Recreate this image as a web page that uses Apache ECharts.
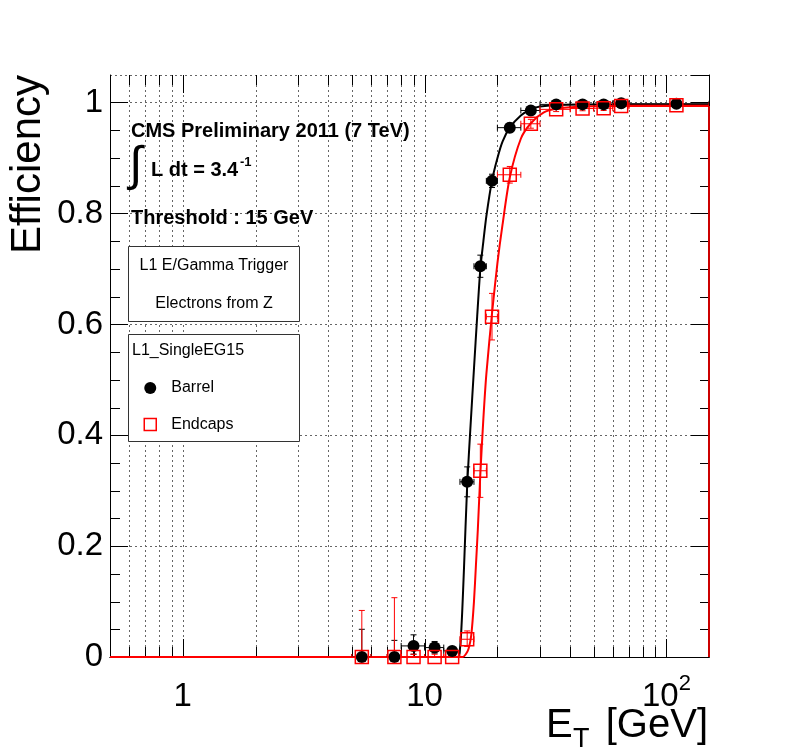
<!DOCTYPE html>
<html><head><meta charset="utf-8">
<script src="https://cdn.jsdelivr.net/npm/echarts@6/dist/echarts.min.js"></script>
<style>html,body{margin:0;padding:0;background:#fff}#c{width:788px;height:756px}</style>
</head><body><div id="c"></div>
<script>
const FONT = "'Liberation Sans', Arial, Helvetica, sans-serif";

// ---- axis ticks / labels ----
const xMajorTicks = [1, 10, 100];
const xMajorLabels = ['{b|1}', '{b|10}', '{b|10}{s|2}'];
const xMinorTicks = [0.6, 0.7, 0.8, 0.9, 2, 3, 4, 5, 6, 7, 8, 9, 20, 30, 40, 50, 60, 70, 80, 90];
const yMajorTicks = [0, 0.2, 0.4, 0.6, 0.8, 1];
const yMajorLabels = ['0', '0.2', '0.4', '0.6', '0.8', '1'];
const yMinorTicks = [0.05, 0.1, 0.15, 0.25, 0.3, 0.35, 0.45, 0.5, 0.55, 0.65, 0.7, 0.75, 0.85, 0.9, 0.95];

// ---- measured points ----
const binCenter = [5.5, 7.5, 9, 11, 13, 15, 17, 19, 22.5, 27.5, 35, 45, 55, 65, 110];
const binLow    = [5, 7, 8, 10, 12, 14, 16, 18, 20, 25, 30, 40, 50, 60, 70];
const binHigh   = [6, 8, 10, 12, 14, 16, 18, 20, 25, 30, 40, 50, 60, 70, 150];

const barrelEff   = [0, 0, 0.02, 0.017, 0.011, 0.316, 0.705, 0.859, 0.955, 0.986, 0.997, 0.997, 0.997, 0.999, 0.998];
const barrelErrLo = [0, 0, 0.015, 0.01, 0.006, 0.027, 0.02, 0.012, 0.008, 0.004, 0.002, 0.002, 0.002, 0.002, 0.002];
const barrelErrHi = [0.05, 0.03, 0.02, 0.011, 0.006, 0.027, 0.02, 0.012, 0.008, 0.004, 0.002, 0.002, 0.002, 0.001, 0.002];

const endcapEff   = [0, 0, 0, 0, 0, 0.032, 0.336, 0.614, 0.870, 0.962, 0.988, 0.9895, 0.99, 0.994, 0.9955];
const endcapErrLo = [0, 0, 0, 0, 0, 0.013, 0.048, 0.042, 0.015, 0.008, 0.004, 0.004, 0.004, 0.003, 0.003];
const endcapErrHi = [0.084, 0.107, 0.005, 0.005, 0.005, 0.015, 0.048, 0.042, 0.015, 0.008, 0.004, 0.004, 0.004, 0.003, 0.003];

// ---- fitted curves ----
const barrelFitX = [0.5, 13.7, 13.9, 14.1, 14.3, 14.55, 15, 15.5, 16, 16.5, 17, 17.5, 18, 19, 20, 21, 22.5, 25, 27.5, 30, 35, 45, 150];
const barrelFitY = [0, 0, 0.005, 0.03, 0.08, 0.16, 0.31, 0.42, 0.52, 0.615, 0.70, 0.75, 0.795, 0.86, 0.90, 0.93, 0.955, 0.977, 0.988, 0.993, 0.996, 0.997, 0.997];
const endcapFitX = [0.5, 14.4, 14.8, 15.2, 15.6, 16, 16.3, 16.6, 17, 17.5, 18, 19, 20, 21, 22.5, 25, 27.5, 31, 35, 45, 60, 150];
const endcapFitY = [0, 0, 0.005, 0.015, 0.04, 0.1, 0.165, 0.23, 0.33, 0.43, 0.51, 0.62, 0.71, 0.78, 0.865, 0.935, 0.963, 0.982, 0.989, 0.993, 0.994, 0.994];

const xMin = 0.5, xMax = 150, yMin = 0, yMax = 1.05;

const zip = (a, b) => a.map((v, i) => [v, b[i]]);

function errRender(color) {
  return function (params, api) {
    const x = api.value(0), y = api.value(1);
    const xl = api.value(2), xh = api.value(3), el = api.value(4), eh = api.value(5);
    const c = api.coord([x, y]);
    const pL = api.coord([xl, y]), pR = api.coord([xh, y]);
    const pB = api.coord([x, y - el]), pT = api.coord([x, y + eh]);
    const cap = 3;
    const style = { stroke: color, lineWidth: 1 };
    const ch = [];
    const seg = (x1, y1, x2, y2) => ch.push({ type: 'line', shape: { x1, y1, x2, y2 }, style });
    seg(pL[0], c[1], pR[0], c[1]);
    seg(pL[0], c[1] - cap, pL[0], c[1] + cap);
    seg(pR[0], c[1] - cap, pR[0], c[1] + cap);
    if (el > 0) { seg(c[0], c[1], c[0], pB[1]); seg(c[0] - cap, pB[1], c[0] + cap, pB[1]); }
    if (eh > 0) { seg(c[0], c[1], c[0], pT[1]); seg(c[0] - cap, pT[1], c[0] + cap, pT[1]); }
    return { type: 'group', children: ch };
  };
}

const chart = echarts.init(document.getElementById('c'), null, { renderer: 'canvas' });

const xTickData = xMajorTicks.map(v => [v, 0, 1]).concat(xMinorTicks.map(v => [v, 0, 0]));
const yTickData = yMinorTicks.map(v => [1, v]);

const baseX = {
  type: 'log', logBase: 10, min: xMin, max: xMax,
  axisLine: { show: true, lineStyle: { color: '#000', width: 1 } },
  axisTick: { show: false }, splitLine: { show: false }, minorTick: { show: false }
};
const baseY = {
  type: 'value', min: yMin, max: yMax, interval: 0.2,
  axisLine: { show: true, lineStyle: { color: '#000', width: 1 } },
  axisTick: { show: true, inside: true, length: 18, lineStyle: { color: '#000', width: 1 } }
};

chart.setOption({
  animation: false,
  backgroundColor: '#fff',
  grid: { left: 110, top: 75, right: 79, bottom: 99, containLabel: false },
  xAxis: [
    Object.assign({}, baseX, {
      position: 'bottom',
      axisLabel: {
        show: true, margin: 16, showMinLabel: false, showMaxLabel: false,
        formatter: v => {
          const i = xMajorTicks.findIndex(t => Math.abs(Math.log10(t) - Math.log10(v)) < 1e-6);
          return i < 0 ? '' : xMajorLabels[i];
        },
        rich: {
          b: { fontSize: 33, fontFamily: FONT, color: '#000', lineHeight: 40, verticalAlign: 'bottom' },
          s: { fontSize: 22, fontFamily: FONT, color: '#000', lineHeight: 40, verticalAlign: 'top' }
        }
      }
    }),
    Object.assign({}, baseX, { position: 'top', axisLabel: { show: false } })
  ],
  yAxis: [
    Object.assign({}, baseY, {
      position: 'left',
      axisLabel: {
        show: true, margin: 7, fontSize: 33, fontFamily: FONT, color: '#000', showMaxLabel: false,
        formatter: v => {
          const i = yMajorTicks.findIndex(t => Math.abs(t - v) < 1e-6);
          return i < 0 ? '' : yMajorLabels[i];
        }
      },
      splitLine: { show: true, lineStyle: { color: '#666', width: 1, type: [2, 3] } }
    }),
    Object.assign({}, baseY, { position: 'right', axisLabel: { show: false }, splitLine: { show: false } })
  ],
  legend: {
    orient: 'vertical', left: 143.5, top: 380, padding: 0, itemGap: 20.5,
    itemWidth: 12, itemHeight: 12, z: 50, zlevel: 0,
    textStyle: { fontSize: 16, fontFamily: FONT, color: '#000', padding: [0, 0, 0, 10] },
    data: [
      { name: 'Barrel', icon: 'circle', itemStyle: { color: '#000', opacity: 1 } },
      { name: 'Endcaps', icon: 'rect', itemStyle: { color: 'rgba(0,0,0,0)', borderColor: '#ff0000', borderWidth: 1.5, opacity: 1 } }
    ]
  },
  series: [
    { // vertical grid lines + x ticks
      type: 'custom', silent: true, z: 1, clip: false, data: xTickData,
      renderItem(params, api) {
        const cs = params.coordSys;
        const px = Math.round(api.coord([api.value(0), 0.5])[0]) + 0.5;
        const len = api.value(2) ? 18 : 10;
        const top = cs.y, bot = cs.y + cs.height;
        return { type: 'group', children: [
          { type: 'line', shape: { x1: px, y1: top, x2: px, y2: bot }, style: { stroke: '#666', lineWidth: 1, lineDash: [2, 3] } },
          { type: 'line', shape: { x1: px, y1: bot, x2: px, y2: bot - len }, style: { stroke: '#000', lineWidth: 1 } },
          { type: 'line', shape: { x1: px, y1: top, x2: px, y2: top + len }, style: { stroke: '#000', lineWidth: 1 } }
        ] };
      }
    },
    { // y minor ticks
      type: 'custom', silent: true, z: 1, clip: false, data: yTickData,
      renderItem(params, api) {
        const cs = params.coordSys;
        const py = Math.round(api.coord([1, api.value(1)])[1]) + 0.5;
        const l = cs.x, r = cs.x + cs.width;
        return { type: 'group', children: [
          { type: 'line', shape: { x1: l, y1: py, x2: l + 10, y2: py }, style: { stroke: '#000', lineWidth: 1 } },
          { type: 'line', shape: { x1: r, y1: py, x2: r - 9, y2: py }, style: { stroke: '#000', lineWidth: 1 } }
        ] };
      }
    },
    {
      name: 'Barrel fit', type: 'line', data: zip(barrelFitX, barrelFitY), showSymbol: false,
      smooth: 0.25, clip: false, z: 2, silent: true,
      lineStyle: { color: '#000', width: 2 }, itemStyle: { color: '#000' }
    },
    {
      name: 'Endcaps fit', type: 'line', data: zip(endcapFitX, endcapFitY), showSymbol: false,
      smooth: 0.25, clip: false, z: 2, silent: true,
      lineStyle: { color: '#ff0000', width: 2 }, itemStyle: { color: '#ff0000' }
    },
    {
      name: 'Endcaps fit edge', type: 'line',
      data: [[xMax, endcapFitY[endcapFitY.length - 1]], [xMax, 0]], showSymbol: false,
      clip: false, z: 2, silent: true,
      lineStyle: { color: '#cc0000', width: 2 }
    },
    {
      name: 'Barrel err', type: 'custom', z: 3, clip: true, silent: true,
      data: binCenter.map((x, i) => [x, barrelEff[i], binLow[i], binHigh[i], barrelErrLo[i], barrelErrHi[i]]),
      encode: { x: 0, y: 1 }, renderItem: errRender('#000')
    },
    {
      name: 'Barrel', type: 'scatter', z: 4, data: zip(binCenter, barrelEff),
      symbol: 'circle', symbolSize: 12, itemStyle: { color: '#000', opacity: 1 }
    },
    {
      name: 'Endcaps err', type: 'custom', z: 3, clip: true, silent: true,
      data: binCenter.map((x, i) => [x, endcapEff[i], binLow[i], binHigh[i], endcapErrLo[i], endcapErrHi[i]]),
      encode: { x: 0, y: 1 }, renderItem: errRender('#ff0000')
    },
    {
      name: 'Endcaps', type: 'scatter', z: 5, data: zip(binCenter, endcapEff),
      symbol: 'rect', symbolSize: 13,
      itemStyle: { color: 'rgba(0,0,0,0)', borderColor: '#ff0000', borderWidth: 1.5, opacity: 1 }
    }
  ],
  graphic: [
    { type: 'text', x: 28, y: 75, rotation: Math.PI / 2, z: 10,
      style: { text: 'Efficiency', fontSize: 42, fontFamily: FONT, fill: '#000', align: 'right', verticalAlign: 'middle' } },
    { type: 'text', x: 708, y: 726, z: 10,
      style: { text: '[GeV]', fontSize: 40, fontFamily: FONT, fill: '#000', align: 'right', verticalAlign: 'middle' } },
    { type: 'text', x: 546, y: 726, z: 10,
      style: { text: 'E', fontSize: 40, fontFamily: FONT, fill: '#000', align: 'left', verticalAlign: 'middle' } },
    { type: 'text', x: 573, y: 740, z: 10,
      style: { text: 'T', fontSize: 27, fontFamily: FONT, fill: '#000', align: 'left', verticalAlign: 'middle' } },

    { type: 'text', x: 131, y: 131, z: 10,
      style: { text: 'CMS Preliminary 2011 (7 TeV)', fontSize: 20, fontWeight: 'bold', fontFamily: FONT, fill: '#000', verticalAlign: 'middle' } },
    { type: 'text', x: 129, y: 167, z: 10,
      style: { text: '\u222B', fontSize: 48, fontFamily: FONT, fill: '#000', verticalAlign: 'middle' } },
    { type: 'text', x: 151, y: 170, z: 10,
      style: { text: 'L dt = 3.4', fontSize: 20, fontWeight: 'bold', fontFamily: FONT, fill: '#000', verticalAlign: 'middle' } },
    { type: 'text', x: 240, y: 162, z: 10,
      style: { text: '-1', fontSize: 13, fontWeight: 'bold', fontFamily: FONT, fill: '#000', verticalAlign: 'middle' } },
    { type: 'text', x: 131, y: 218, z: 10,
      style: { text: 'Threshold : 15 GeV', fontSize: 20, fontWeight: 'bold', fontFamily: FONT, fill: '#000', verticalAlign: 'middle' } },

    { type: 'rect', z: 8, shape: { x: 128.5, y: 246.5, width: 171, height: 75 },
      style: { fill: '#fff', stroke: '#333', lineWidth: 1 } },
    { type: 'text', x: 214, y: 265.5, z: 10,
      style: { text: 'L1 E/Gamma Trigger', fontSize: 16, fontFamily: FONT, fill: '#000', align: 'center', verticalAlign: 'middle' } },
    { type: 'text', x: 214, y: 303.5, z: 10,
      style: { text: 'Electrons from Z', fontSize: 16, fontFamily: FONT, fill: '#000', align: 'center', verticalAlign: 'middle' } },

    { type: 'rect', z: 8, shape: { x: 128.5, y: 334.5, width: 171, height: 107 },
      style: { fill: '#fff', stroke: '#333', lineWidth: 1 } },
    { type: 'text', x: 132, y: 350.5, z: 10,
      style: { text: 'L1_SingleEG15', fontSize: 16, fontFamily: FONT, fill: '#000', align: 'left', verticalAlign: 'middle' } }
  ]
});
</script>
</body></html>
